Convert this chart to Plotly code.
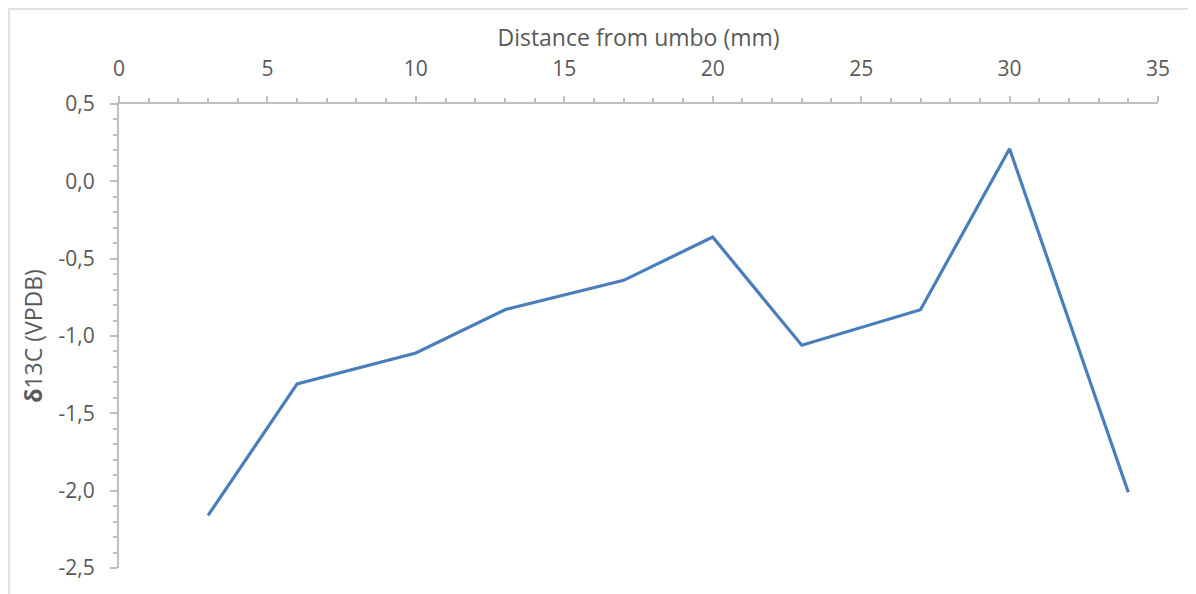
import plotly.graph_objects as go

distance_mm = [3, 6, 10, 13, 17, 20, 23, 27, 30, 34]
d13c_vpdb = [-2.16, -1.31, -1.11, -0.83, -0.64, -0.36, -1.06, -0.83, 0.21, -2.01]

x_tick_vals = [0, 5, 10, 15, 20, 25, 30, 35]
y_tick_vals = [0.5, 0.0, -0.5, -1.0, -1.5, -2.0, -2.5]
y_tick_text = ["0,5", "0,0", "-0,5", "-1,0", "-1,5", "-2,0", "-2,5"]

font_family = "Open Sans, Liberation Sans, sans-serif"
tick_color = "#595959"
axis_color = "#BFBFBF"

L, R, T, B = 111, 46, 96, 34
W, H = 1196, 594
pw, ph = W - L - R, H - T - B

fig = go.Figure()
fig.add_trace(go.Scatter(
    x=distance_mm, y=d13c_vpdb, mode="lines",
    line=dict(color="#4A7EBB", width=3.2),
    showlegend=False, hoverinfo="skip",
))

fig.update_layout(
    width=W, height=H,
    margin=dict(l=L, r=R, t=T, b=B, autoexpand=False),
    paper_bgcolor="white", plot_bgcolor="white",
    font=dict(family=font_family, color=tick_color, size=21),
    xaxis=dict(
        side="top", range=[0, 35], tickvals=x_tick_vals,
        ticks="outside", ticklen=6, tickcolor=axis_color, tickwidth=1.5,
        minor=dict(dtick=1, ticks="outside", ticklen=4, tickcolor=axis_color),
        showline=True, linecolor=axis_color, linewidth=2,
        showgrid=False, zeroline=False,
        tickfont=dict(size=21, color=tick_color),
        ticklabelstandoff=12,
        title=dict(text="Distance from umbo (mm)", font=dict(size=23, color=tick_color), standoff=1),
        anchor="y",
    ),
    yaxis=dict(
        range=[-2.5, 0.5], tickvals=y_tick_vals, ticktext=y_tick_text,
        ticks="outside", ticklen=7, tickcolor=axis_color, tickwidth=1.5,
        minor=dict(dtick=0.1, tick0=0, ticks="outside", ticklen=4, tickcolor=axis_color),
        showline=True, linecolor=axis_color, linewidth=2,
        showgrid=False, zeroline=False,
        tickfont=dict(size=21, color=tick_color),
        ticklabelstandoff=11,
        title=dict(text="<b>δ</b>13C (VPDB)", font=dict(size=23, color=tick_color), standoff=10),
    ),
    shapes=[dict(
        type="rect", xref="paper", yref="paper",
        x0=-(L - 1) / pw, x1=1.2, y0=1 + (T - 1) / ph, y1=-0.2,
        line=dict(color="#D9D9D9", width=1.5), fillcolor="rgba(0,0,0,0)", layer="below",
    )],
)

fig.write_html("out.html")
